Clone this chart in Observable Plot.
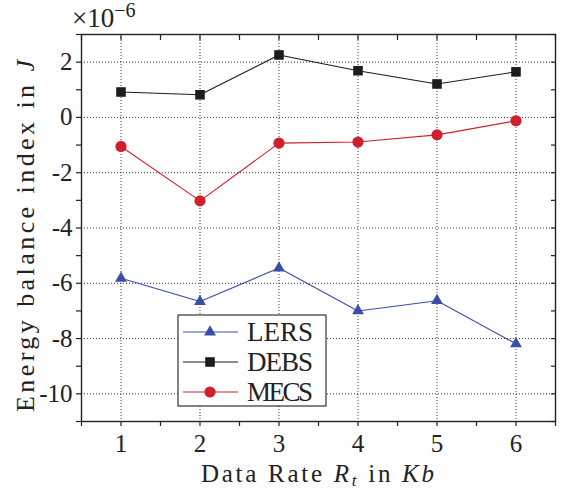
<!DOCTYPE html>
<html>
<head>
<meta charset="utf-8">
<script src="https://cdn.jsdelivr.net/npm/d3@7"></script>
<script src="https://cdn.jsdelivr.net/npm/@observablehq/plot@0.6"></script>
<style>
  html, body { margin: 0; padding: 0; background: #fff; }
  #chart { position: relative; width: 562px; height: 490px; }
</style>
</head>
<body>
<div id="chart"></div>
<script>
// ---- data ----
const rates = [1, 2, 3, 4, 5, 6];
const lers = [-5.82, -6.66, -5.45, -7.0, -6.63, -8.19];
const debs = [0.92, 0.82, 2.26, 1.69, 1.21, 1.65];
const mecs = [-1.05, -3.02, -0.93, -0.89, -0.63, -0.12];
const seriesNames = ["LERS", "DEBS", "MECS"];
const seriesColors = ["#3a4ea8", "#1c1c1c", "#d21f2d"];
const seriesSymbols = ["triangle", "square", "circle"];
const xMajorTicks = [1, 2, 3, 4, 5, 6];
const xMinorTicks = [0.5, 1, 1.5, 2, 2.5, 3, 3.5, 4, 4.5, 5, 5.5, 6, 6.5];
const yMajorTicks = [-10, -8, -6, -4, -2, 0, 2];
const yMinorTicks = [-11, -10, -9, -8, -7, -6, -5, -4, -3, -2, -1, 0, 1, 2, 3];

const seriesValues = [lers, debs, mecs];
const rows = [];
seriesNames.forEach((name, i) => {
  rates.forEach((r, j) => rows.push({series: name, x: r, y: seriesValues[i][j]}));
});

const FF = "'Liberation Serif', 'DejaVu Serif', serif";
const fmt = d => (d < 0 ? "-" + Math.abs(d) : String(d));
const blank = () => "";

const marks = [
  Plot.gridX(xMajorTicks, {stroke: "#222", strokeOpacity: 0.9, strokeDasharray: "1,2", strokeWidth: 1}),
  Plot.gridY(yMajorTicks, {stroke: "#222", strokeOpacity: 0.9, strokeDasharray: "1,2", strokeWidth: 1}),
  // bottom/left outward ticks + labels
  Plot.axisX(xMinorTicks, {anchor: "bottom", tickSize: 5, tickFormat: blank, stroke: "#222", strokeWidth: 1.2, label: null}),
  Plot.axisX(xMajorTicks, {anchor: "bottom", tickSize: 0, tickPadding: 13, tickFormat: fmt, fontSize: 25, fontFamily: FF, fill: "#222", label: null}),
  Plot.axisY(yMinorTicks, {anchor: "left", tickSize: 5, tickFormat: blank, stroke: "#222", strokeWidth: 1.2, label: null}),
  Plot.axisY(yMajorTicks, {anchor: "left", tickSize: 0, tickPadding: 9, tickFormat: fmt, fontSize: 25, fontFamily: FF, fill: "#222", label: null}),
  // top/right inward ticks
  Plot.axisX(xMinorTicks, {anchor: "top", tickSize: -5, tickFormat: blank, stroke: "#222", strokeWidth: 1.2, label: null}),
  Plot.axisY(yMinorTicks, {anchor: "right", tickSize: -5, tickFormat: blank, stroke: "#222", strokeWidth: 1.2, label: null}),
  Plot.frame({stroke: "#222", strokeWidth: 1.4})
];

seriesNames.forEach((name, i) => {
  const data = rows.filter(d => d.series === name);
  marks.push(Plot.line(data, {x: "x", y: "y", stroke: seriesColors[i], strokeWidth: 1.1}));
});
const symR = [4.4, 5.4, 5.6];
seriesNames.forEach((name, i) => {
  const data = rows.filter(d => d.series === name);
  marks.push(Plot.dot(data, {x: "x", y: "y", symbol: () => seriesSymbols[i], fill: seriesColors[i], stroke: "none", r: symR[i]}));
});

const plot = Plot.plot({
  width: 562,
  height: 490,
  marginLeft: 81,
  marginRight: 7,
  marginTop: 34,
  marginBottom: 69,
  x: {domain: [0.5, 6.5], axis: null},
  y: {domain: [-11, 3], axis: null},
  style: {background: "#fff", fontFamily: FF, color: "#222"},
  marks
});

document.getElementById("chart").appendChild(plot);

// ---- annotations: exponent, axis titles, legend ----
const svg = d3.select(plot);
function txt(sel, size) {
  return sel.append("text").style("font-family", FF).attr("text-anchor", "start").attr("fill", "#222").attr("font-size", size);
}

// ×10^-6
const exp = txt(svg, 27).attr("x", 72).attr("y", 27);
exp.append("tspan").text("×10");
exp.append("tspan").attr("dy", -10).attr("font-size", 20).text("−6");

// x title
const xt = txt(svg, 25).attr("x", 201).attr("y", 482).attr("textLength", 233).attr("lengthAdjust", "spacing");
xt.append("tspan").text("Data Rate ");
xt.append("tspan").attr("font-style", "italic").text("R");
xt.append("tspan").attr("font-style", "italic").attr("font-size", 17).attr("dy", 4).text("t");
xt.append("tspan").attr("dy", -4).text(" in ");
xt.append("tspan").attr("font-style", "italic").text("Kb");

// y title
const yt = txt(svg, 26).attr("transform", "translate(34,412) rotate(-90)")
  .attr("textLength", 352).attr("lengthAdjust", "spacing");
yt.append("tspan").text("Energy balance index in ");
yt.append("tspan").attr("font-style", "italic").text("J");

// legend
const lg = svg.append("g");
lg.append("rect").attr("x", 178).attr("y", 315).attr("width", 148).attr("height", 91)
  .attr("fill", "#fff").attr("stroke", "#333").attr("stroke-width", 1.2);
const symMap = {triangle: d3.symbolTriangle, square: d3.symbolSquare, circle: d3.symbolCircle};
seriesNames.forEach((name, i) => {
  const cy = 332 + i * 30;
  lg.append("line").attr("x1", 183).attr("x2", 238).attr("y1", cy).attr("y2", cy)
    .attr("stroke", seriesColors[i]).attr("stroke-width", 1.1);
  lg.append("path").attr("transform", `translate(210,${cy})`)
    .attr("d", d3.symbol(symMap[seriesSymbols[i]], Math.PI * symR[i] * symR[i])())
    .attr("fill", seriesColors[i]);
  txt(lg, 27).attr("x", 247).attr("y", cy + 9).attr("textLength", 66).attr("lengthAdjust", "spacing").text(name);
});
</script>
</body>
</html>
